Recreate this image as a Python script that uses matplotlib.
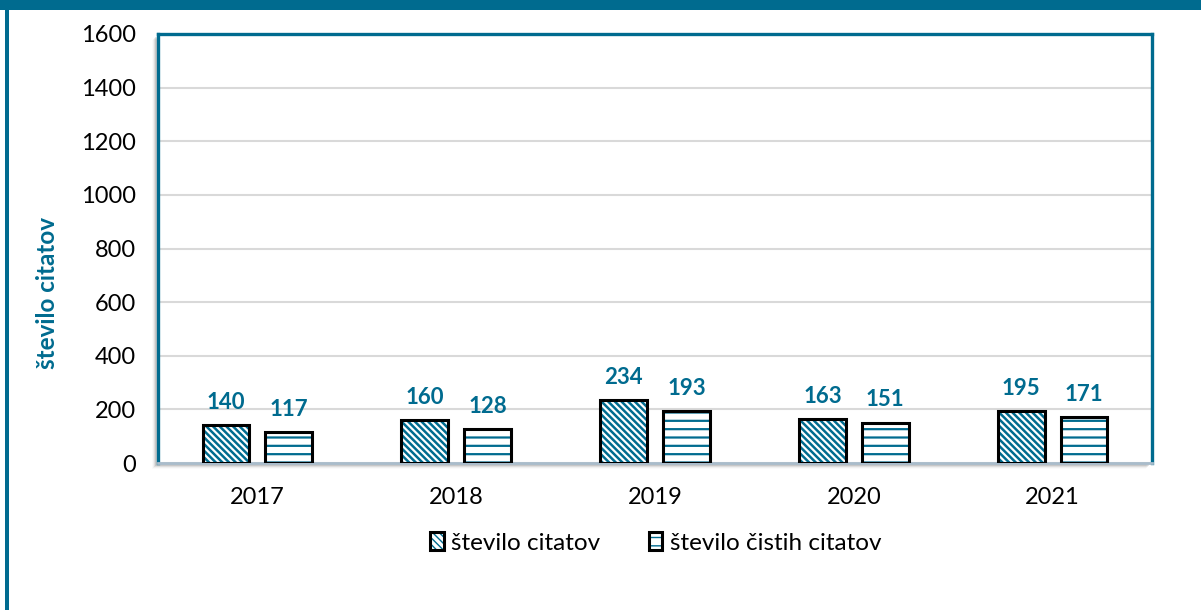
import numpy as np
import matplotlib.pyplot as plt
from matplotlib.patches import Rectangle
from matplotlib.legend_handler import HandlerTuple

years = ['2017', '2018', '2019', '2020', '2021']
citati = [140, 160, 234, 163, 195]
cisti_citati = [117, 128, 193, 151, 171]
series_labels = ['število citatov', 'število čistih citatov']

TEAL = '#006B8F'
W, H = 1201, 610

plt.rcParams['font.family'] = ['Lato', 'DejaVu Sans']

fig = plt.figure(figsize=(W / 100, H / 100), dpi=100)
ax = fig.add_axes([158 / W, 1 - 463 / H, (1152 - 158) / W, (463 - 34) / H])
ax.set_zorder(2)
ax.set_facecolor('white')

# frame of the whole picture
fig.patches.append(Rectangle((0, 1 - 10 / H), 1, 10 / H, transform=fig.transFigure,
                             facecolor=TEAL, edgecolor='none', zorder=0))
fig.patches.append(Rectangle((5 / W, 0), 3.5 / W, 1, transform=fig.transFigure,
                             facecolor=TEAL, edgecolor='none', zorder=0))
# soft shadow behind the plot area (left and bottom)
for i, a in enumerate([0.10, 0.07, 0.04, 0.02]):
    d = i + 1
    fig.patches.append(Rectangle(((158 - 2 - d) / W, 1 - (463 + 2 + d) / H),
                                 (1152 - 158) / W, (463 - 34) / H,
                                 transform=fig.transFigure, facecolor='black',
                                 edgecolor='none', alpha=a, zorder=0))

x = np.arange(len(years))
bw = 0.236
off = 0.158

with plt.rc_context({'hatch.linewidth': 1.8}):
    h1 = ax.bar(x - off, citati, bw, color='white', edgecolor=TEAL,
                hatch='\\\\\\\\\\', linewidth=0, zorder=2)
with plt.rc_context({'hatch.linewidth': 1.6}):
    h2 = ax.bar(x + off, cisti_citati, bw, color='white', edgecolor=TEAL,
                hatch='--', linewidth=0, zorder=2)
e1 = ax.bar(x - off, citati, bw, color='none', edgecolor='black', linewidth=2.2, zorder=3)
e2 = ax.bar(x + off, cisti_citati, bw, color='none', edgecolor='black', linewidth=2.2, zorder=3)

for xi, v in zip(x - off, citati):
    ax.text(xi, v + 45, str(v), ha='center', va='bottom', color=TEAL,
            fontsize=16, fontweight='bold')
for xi, v in zip(x + off, cisti_citati):
    ax.text(xi, v + 45, str(v), ha='center', va='bottom', color=TEAL,
            fontsize=16, fontweight='bold')

ax.set_xlim(-0.5, len(years) - 0.5)
ax.set_ylim(0, 1600)
ax.set_yticks(np.arange(0, 1601, 200))
ax.set_xticks(x)
ax.set_xticklabels(years)
ax.tick_params(axis='both', length=0, labelsize=17, colors='black')
ax.tick_params(axis='y', pad=16)
ax.tick_params(axis='x', pad=17)
ax.grid(axis='y', color='#d9d9d9', linewidth=1.5, zorder=0)
ax.set_axisbelow(True)

for s in ['left', 'top', 'right']:
    ax.spines[s].set_color(TEAL)
    ax.spines[s].set_linewidth(2.4)
ax.spines['bottom'].set_color('#a9bccb')
ax.spines['bottom'].set_linewidth(2)

ax.set_ylabel('število citatov', color=TEAL, fontsize=17.5, fontweight='bold')
ax.yaxis.set_label_coords(-0.100, 0.396)

fig.legend([(h1[0], e1[0]), (h2[0], e2[0])], series_labels,
           handler_map={tuple: HandlerTuple(ndivide=1)},
           loc='center', bbox_to_anchor=(0.546, 1 - 543 / H), ncol=2, frameon=False,
           fontsize=17.5, handlelength=0.55, handleheight=0.7, handletextpad=0.3,
           columnspacing=2.0)

fig.savefig('out.png', dpi=100)
